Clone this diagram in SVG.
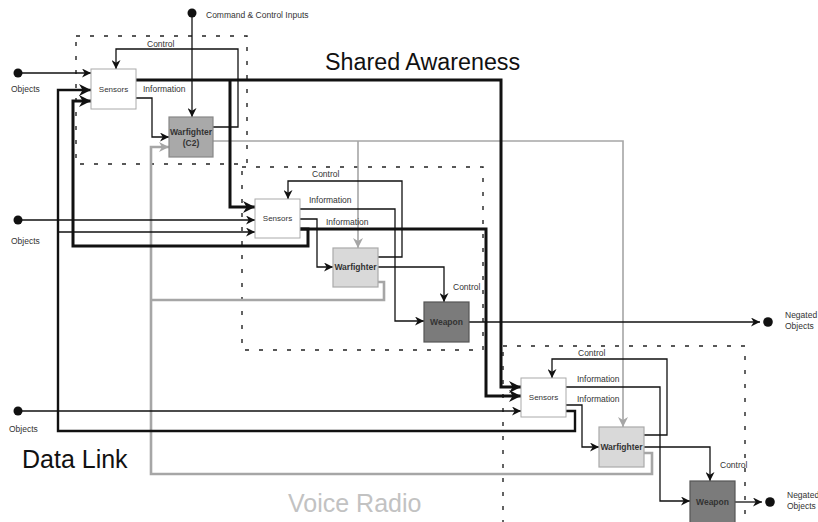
<svg xmlns="http://www.w3.org/2000/svg" width="818" height="522" viewBox="0 0 818 522">
<style>
.bg{fill:#fff}
.bound{fill:none;stroke:#222;stroke-width:1.4;stroke-dasharray:4 10}
.thin{fill:none;stroke:#111;stroke-width:1.3}
.thick{fill:none;stroke:#111;stroke-width:3}
.mid{fill:none;stroke:#111;stroke-width:2.4}
.grey{fill:none;stroke:#a6a6a6;stroke-width:1.6}
.greyw{fill:none;stroke:#a6a6a6;stroke-width:2.6}
.lbl{font-family:"Liberation Sans",Arial,sans-serif;font-size:8.5px;fill:#333}
.nt{font-family:"Liberation Sans",Arial,sans-serif;font-size:8px;fill:#333;text-anchor:middle}
.nb{font-family:"Liberation Sans",Arial,sans-serif;font-size:8.5px;font-weight:bold;fill:#333;text-anchor:middle}
.big{font-family:"Liberation Sans",Arial,sans-serif;fill:#111}
.sens{fill:#fff;stroke:#aaa;stroke-width:1}
.wfc2{fill:#a9a9a9;stroke:#888;stroke-width:1.2}
.wf{fill:#d9d9d9;stroke:#aaa;stroke-width:1.2}
.wpn{fill:#7b7b7b;stroke:#555;stroke-width:1.2}
.dot{fill:#111}
</style>
<defs>
<marker id="a" viewBox="0 0 10 10" refX="10" refY="5" markerWidth="9" markerHeight="9" orient="auto" markerUnits="userSpaceOnUse"><path d="M0,0 L10,5 L0,10 L3,5 z" fill="#111"/></marker>
<marker id="at" viewBox="0 0 10 10" refX="10" refY="5" markerWidth="12" markerHeight="12" orient="auto" markerUnits="userSpaceOnUse"><path d="M0,0 L10,5 L0,10 L3,5 z" fill="#111"/></marker>
<marker id="ag" viewBox="0 0 10 10" refX="10" refY="5" markerWidth="10" markerHeight="10" orient="auto" markerUnits="userSpaceOnUse"><path d="M0,0 L10,5 L0,10 L3,5 z" fill="#a6a6a6"/></marker>
</defs>
<rect class="bg" x="0" y="0" width="818" height="522"/>

<g id="boundaries">
<rect class="bound" x="76" y="36" width="171" height="128"/>
<rect class="bound" x="242" y="167" width="241" height="183"/>
<rect class="bound" x="503" y="346" width="242" height="190"/>
</g>

<g id="connectors">
<!-- voice radio (grey) -->
<path class="grey" d="M213,141 H623 V427" marker-end="url(#ag)"/>
<path class="grey" d="M358,141 V248" marker-end="url(#ag)"/>
<path class="greyw" d="M644,453 H652 V474 H151 V147 H169" marker-end="url(#ag)"/>
<path class="greyw" d="M378,282 H384 V300 H151"/>
<!-- data link / shared awareness (thick) -->
<path class="thick" d="M136,80 H501 V387 H521" marker-end="url(#at)"/>
<path class="thick" d="M230,80 V207 H255" marker-end="url(#at)"/>
<path class="thick" d="M300,229 H486 V396 H521" marker-end="url(#at)"/>
<path class="thick" d="M300,229 H308 V246 H73 V101 H91" marker-end="url(#at)"/>
<path class="mid" d="M566,411 H575 V431 H58 V90 H91" marker-end="url(#at)"/>
<path class="thin" d="M58,232 H255" marker-end="url(#a)"/>
<!-- inputs -->
<path class="thin" d="M18,73 H91" marker-end="url(#a)"/>
<path class="thin" d="M18,220 H255" marker-end="url(#a)"/>
<path class="thin" d="M18,411 H521" marker-end="url(#a)"/>
<path class="thin" d="M192,13 V117" marker-end="url(#a)"/>
<!-- cell 1 -->
<path class="thin" d="M213,127 H238 V49 H116 V69" marker-end="url(#a)"/>
<path class="thin" d="M136,98 H152 V137 H169" marker-end="url(#a)"/>
<!-- cell 2 -->
<path class="thin" d="M300,209 H395 V321 H424" marker-end="url(#a)"/>
<path class="thin" d="M300,219 H317 V267 H333" marker-end="url(#a)"/>
<path class="thin" d="M378,257 H402 V181 H288 V199" marker-end="url(#a)"/>
<path class="thin" d="M378,267 H444 V302" marker-end="url(#a)"/>
<path class="thin" d="M469,322 H760" marker-end="url(#a)"/>
<!-- cell 3 -->
<path class="thin" d="M644,435 H667 V359 H552 V378" marker-end="url(#a)"/>
<path class="thin" d="M566,387 H660 V501 H690" marker-end="url(#a)"/>
<path class="thin" d="M566,405 H582 V447 H599" marker-end="url(#a)"/>
<path class="thin" d="M644,447 H710 V481" marker-end="url(#a)"/>
<path class="thin" d="M735,502 H762" marker-end="url(#a)"/>
</g>

<g id="terminals">
<circle class="dot" cx="18" cy="73" r="4.5"/>
<circle class="dot" cx="18" cy="220" r="4.5"/>
<circle class="dot" cx="18" cy="411" r="4.5"/>
<circle class="dot" cx="192" cy="13" r="4.5"/>
<circle class="dot" cx="768" cy="322" r="4.8"/>
<circle class="dot" cx="770" cy="502" r="4.8"/>
<text class="lbl" x="11" y="92">Objects</text>
<text class="lbl" x="11" y="244">Objects</text>
<text class="lbl" x="9" y="432">Objects</text>
<text class="lbl" x="206" y="18">Command &amp; Control Inputs</text>
<text class="lbl" x="785" y="318">Negated</text>
<text class="lbl" x="785" y="329">Objects</text>
<text class="lbl" x="787" y="498">Negated</text>
<text class="lbl" x="787" y="509">Objects</text>
</g>

<g id="connector-labels">
<text class="lbl" x="147" y="47">Control</text>
<text class="lbl" x="143" y="92">Information</text>
<text class="lbl" x="312" y="177">Control</text>
<text class="lbl" x="309" y="203">Information</text>
<text class="lbl" x="326" y="225">Information</text>
<text class="lbl" x="453" y="290">Control</text>
<text class="lbl" x="578" y="356">Control</text>
<text class="lbl" x="577" y="382">Information</text>
<text class="lbl" x="577" y="402">Information</text>
<text class="lbl" x="720" y="468">Control</text>
</g>

<g id="sensors1"><rect class="sens" x="91" y="69" width="45" height="40"/><text class="nt" x="113.5" y="92">Sensors</text></g>
<g id="warfighter-c2"><rect class="wfc2" x="169" y="117" width="44" height="40"/><text class="nb" x="191" y="135">Warfighter</text><text class="nb" x="191" y="146">(C2)</text></g>
<g id="sensors2"><rect class="sens" x="255" y="199" width="45" height="39"/><text class="nt" x="277.5" y="221">Sensors</text></g>
<g id="warfighter2"><rect class="wf" x="333" y="248" width="45" height="39"/><text class="nb" x="355.5" y="270">Warfighter</text></g>
<g id="weapon2"><rect class="wpn" x="424" y="302" width="45" height="40"/><text class="nb" x="446.5" y="325">Weapon</text></g>
<g id="sensors3"><rect class="sens" x="521" y="378" width="45" height="39"/><text class="nt" x="543.5" y="400">Sensors</text></g>
<g id="warfighter3"><rect class="wf" x="599" y="427" width="45" height="40"/><text class="nb" x="621.5" y="450">Warfighter</text></g>
<g id="weapon3"><rect class="wpn" x="690" y="481" width="45" height="42"/><text class="nb" x="712.5" y="505">Weapon</text></g>

<g id="titles">
<text class="big" x="325" y="70" font-size="23.3">Shared Awareness</text>
<text class="big" x="22" y="468" font-size="25">Data Link</text>
<text class="big" x="288" y="512" font-size="25" style="fill:#c2c2c2">Voice Radio</text>
</g>
</svg>
